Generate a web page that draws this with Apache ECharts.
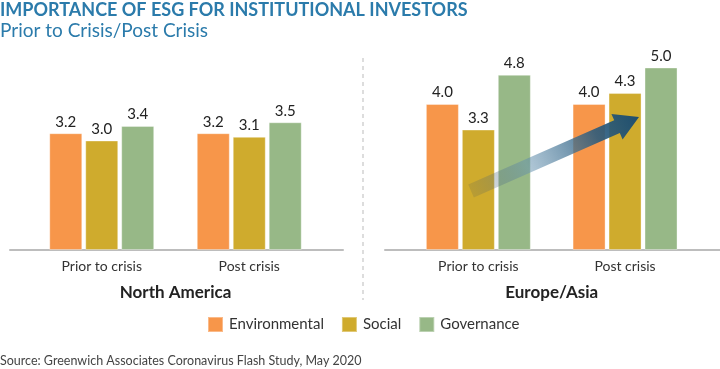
<!DOCTYPE html>
<html><head><meta charset="utf-8">
<script src="https://cdn.jsdelivr.net/npm/echarts@6/dist/echarts.min.js"></script>
<style>html,body{margin:0;padding:0;background:#fff}#c{width:720px;height:369px}</style>
</head><body><div id="c"></div>
<script>
const categories = ['Prior to crisis', 'Post crisis'];
const regions = ['North America', 'Europe/Asia'];
const seriesNames = ['Environmental', 'Social', 'Governance'];
const naEnvironmental = [3.2, 3.2];
const naSocial = [3.0, 3.1];
const naGovernance = [3.4, 3.5];
const euEnvironmental = [4.0, 4.0];
const euSocial = [3.3, 4.3];
const euGovernance = [4.8, 5.0];
const colors = ['#F7964A', '#CFAB2D', '#97B887'];

const FONT = 'Lato';
const chart = echarts.init(document.getElementById('c'), null, {renderer: 'canvas'});

function mkSeries(name, data, idx, color) {
  return {
    name: name, type: 'bar', data: data,
    xAxisIndex: idx, yAxisIndex: idx,
    barWidth: 33, barGap: '9%',
    itemStyle: {color: color, borderColor: 'rgba(255,255,255,0.35)', borderWidth: 1},
    label: {show: true, position: 'top', distance: 4, color: '#222', fontSize: 15, fontFamily: FONT,
      formatter: p => p.value.toFixed(1)},
    emphasis: {disabled: true}
  };
}

const catAxis = (grid, name) => ({
  type: 'category', gridIndex: grid, data: categories,
  axisLine: {show: false}, axisTick: {show: false},
  axisLabel: {color: '#333', fontSize: 14, fontFamily: FONT, margin: 9},
  name: name, nameLocation: 'middle', nameGap: 34,
  nameTextStyle: {color: '#222', fontSize: 17, fontWeight: 'bold', fontFamily: FONT}
});
const lineAxis = (grid) => ({
  type: 'value', gridIndex: grid, min: 0, max: 1,
  axisLine: {show: true, lineStyle: {color: '#bdbdbd', width: 2}},
  axisTick: {show: false}, axisLabel: {show: false}, splitLine: {show: false}
});
const valAxis = (grid) => ({type: 'value', gridIndex: grid, min: 0, max: 6, show: false});

chart.setOption({
  animation: false,
  title: {
    text: 'IMPORTANCE OF ESG FOR INSTITUTIONAL INVESTORS',
    subtext: 'Prior to Crisis/Post Crisis',
    left: -5, top: -4, itemGap: 2,
    textStyle: {color: '#2B7BAB', fontSize: 18, fontWeight: 'bold', fontFamily: FONT},
    subtextStyle: {color: '#2B7BAB', fontSize: 19, fontFamily: FONT}
  },
  legend: {
    data: seriesNames, left: 202, top: 311,
    itemWidth: 15, itemHeight: 15, itemGap: 17,
    icon: 'rect',
    textStyle: {color: '#333', fontSize: 15, fontFamily: FONT, padding: [0, 0, 0, 1]}
  },
  grid: [
    {left: 28, width: 295, top: 31, bottom: 119},
    {left: 405, width: 293.4, top: 31, bottom: 119},
    {left: 10, width: 333, top: 31, bottom: 119},
    {left: 385, width: 335, top: 31, bottom: 119}
  ],
  xAxis: [catAxis(0, regions[0]), catAxis(1, regions[1]), lineAxis(2), lineAxis(3)],
  yAxis: [valAxis(0), valAxis(1), valAxis(2), valAxis(3)],
  series: [
    mkSeries(seriesNames[0], naEnvironmental, 0, colors[0]),
    mkSeries(seriesNames[1], naSocial, 0, colors[1]),
    mkSeries(seriesNames[2], naGovernance, 0, colors[2]),
    mkSeries(seriesNames[0], euEnvironmental, 1, colors[0]),
    mkSeries(seriesNames[1], euSocial, 1, colors[1]),
    mkSeries(seriesNames[2], euGovernance, 1, colors[2])
  ],
  graphic: [
    {type: 'line', shape: {x1: 363, y1: 58, x2: 363, y2: 300},
     style: {stroke: '#bbb', lineWidth: 1, lineDash: [4, 4]}},
    {type: 'text', left: 0, top: 354,
     style: {text: 'Source: Greenwich Associates Coronavirus Flash Study, May 2020',
       fill: '#444', fontSize: 12.5, fontFamily: FONT}},
    {type: 'polygon', z: 100,
     shape: {points: [[468.2,184.6],[614.2,120.3],[611.4,113.9],[639,117],[622.6,139.5],[619.8,133.1],[473.8,197.4]]},
     style: {fill: {type: 'linear', x: 0, y: 1, x2: 1, y2: 0, colorStops: [
       {offset: 0, color: 'rgba(60,70,80,0.12)'},
       {offset: 0.35, color: 'rgba(100,145,175,0.5)'},
       {offset: 0.75, color: 'rgba(40,90,125,0.88)'},
       {offset: 1, color: '#1D4D6E'}]}}}
  ]
});
</script></body></html>
